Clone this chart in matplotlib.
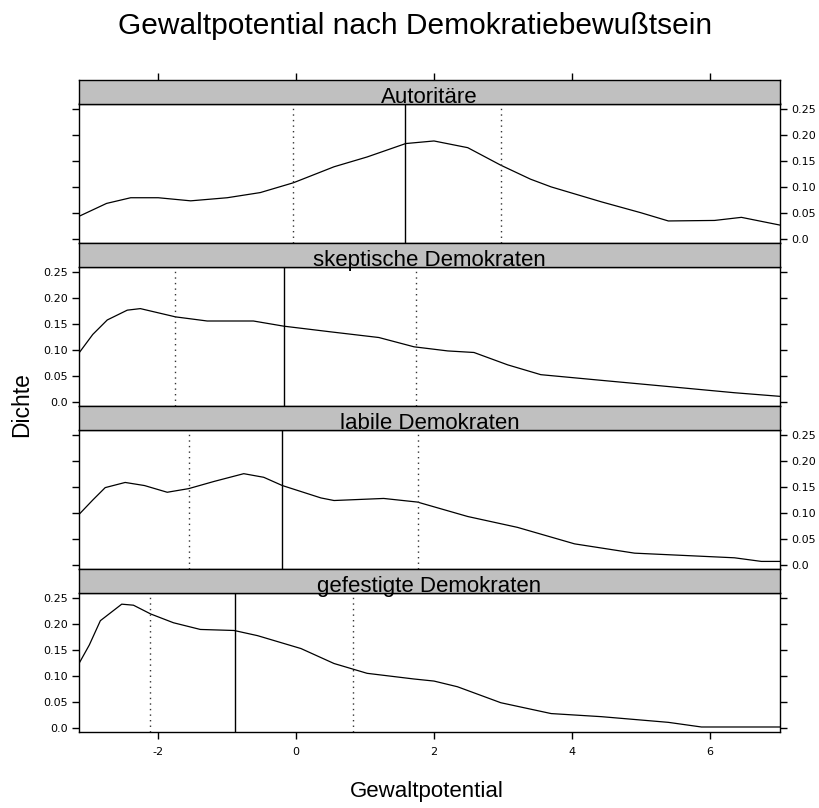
import matplotlib.pyplot as plt
import numpy as np

plt.rcParams['font.family'] = ['Liberation Sans', 'DejaVu Sans']

titel = 'Gewaltpotential nach Demokratiebewußtsein'
gruppen = ['Autoritäre', 'skeptische Demokraten', 'labile Demokraten', 'gefestigte Demokraten']

# Dichtekurven
x_aut = [-3.15, -2.75, -2.4, -2.0, -1.53, -1.0, -0.52, -0.04, 0.55, 1.03, 1.59, 2.0, 2.49, 2.97, 3.4, 3.7, 4.43, 5.0, 5.4, 6.07, 6.46, 7.02]
y_aut = [0.043, 0.068, 0.079, 0.079, 0.073, 0.079, 0.089, 0.108, 0.139, 0.158, 0.184, 0.189, 0.176, 0.142, 0.115, 0.100, 0.071, 0.050, 0.034, 0.035, 0.041, 0.026]

x_ske = [-3.15, -2.95, -2.74, -2.45, -2.26, -1.75, -1.29, -0.62, -0.18, 0.5, 1.2, 1.71, 2.2, 2.58, 3.07, 3.55, 4.43, 5.4, 6.36, 7.02]
y_ske = [0.094, 0.130, 0.158, 0.177, 0.180, 0.164, 0.156, 0.156, 0.146, 0.135, 0.124, 0.106, 0.098, 0.095, 0.071, 0.052, 0.041, 0.029, 0.017, 0.010]

x_lab = [-3.15, -2.95, -2.77, -2.48, -2.2, -1.87, -1.56, -1.19, -0.76, -0.47, -0.2, 0.36, 0.55, 1.27, 1.76, 2.49, 3.21, 4.04, 4.91, 5.88, 6.36, 6.75, 7.02]
y_lab = [0.097, 0.125, 0.149, 0.159, 0.153, 0.140, 0.147, 0.161, 0.176, 0.169, 0.153, 0.129, 0.124, 0.128, 0.121, 0.093, 0.072, 0.040, 0.022, 0.016, 0.013, 0.006, 0.006]

x_gef = [-3.15, -3.0, -2.84, -2.53, -2.36, -2.11, -1.78, -1.39, -0.9, -0.56, 0.07, 0.55, 1.03, 1.71, 2.0, 2.34, 2.97, 3.7, 4.43, 5.4, 5.88, 7.02]
y_gef = [0.124, 0.160, 0.207, 0.239, 0.237, 0.220, 0.203, 0.190, 0.188, 0.178, 0.153, 0.124, 0.105, 0.094, 0.090, 0.079, 0.048, 0.027, 0.021, 0.010, 0.001, 0.001]

# Mittelwert (durchgezogen) und Mittelwert +/- SD (gepunktet)
mittel = [1.58, -0.18, -0.20, -0.89]
unten = [-0.04, -1.75, -1.56, -2.12]
oben = [2.97, 1.74, 1.77, 0.82]

kurven = [(x_aut, y_aut), (x_ske, y_ske), (x_lab, y_lab), (x_gef, y_gef)]
y_ticks = [0.0, 0.05, 0.10, 0.15, 0.20, 0.25]
y_ticklabels = ['0.0', '0.05', '0.10', '0.15', '0.20', '0.25']
x_ticks = [-2, 0, 2, 4, 6]

W, H = 820, 808
fig = plt.figure(figsize=(W / 100, H / 100), dpi=100)

left, right = 79, 780
top0, step, strip_h = 80, 163, 23.5

for k in range(4):
    top = top0 + step * k
    sb = top + strip_h
    bot = top + step
    ax = fig.add_axes([left / W, 1 - bot / H, (right - left) / W, (bot - sb) / H])
    sx = fig.add_axes([left / W, 1 - sb / H, (right - left) / W, strip_h / H])

    xs, ys = kurven[k]
    ax.plot(xs, ys, color='black', lw=0.9)
    ax.axvline(mittel[k], color='black', lw=1)
    ax.axvline(unten[k], color='#333333', lw=1, ls=(0, (1, 3)))
    ax.axvline(oben[k], color='#333333', lw=1, ls=(0, (1, 3)))
    ax.set_xlim(-3.15, 7.02)
    ax.set_ylim(-0.0087, 0.2616)

    ax.set_yticks(y_ticks)
    ax.set_yticklabels(y_ticklabels, family='DejaVu Sans')
    lab_left = (k % 2 == 1)
    ax.tick_params(axis='y', left=True, right=True, labelleft=lab_left, labelright=not lab_left,
                   direction='out', length=5, width=1, labelsize=8, pad=3)
    ax.set_xticks(x_ticks)
    ax.set_xticklabels([str(t) for t in x_ticks], family='DejaVu Sans')
    ax.tick_params(axis='x', bottom=(k == 3), top=False, labelbottom=(k == 3),
                   direction='out', length=5, width=1, labelsize=8, pad=6)
    for s in ax.spines.values():
        s.set_linewidth(1)

    sx.set_facecolor('#c0c0c0')
    sx.set_xlim(-3.15, 7.02)
    sx.set_yticks([])
    if k == 0:
        sx.set_xticks(x_ticks)
        sx.tick_params(axis='x', bottom=False, labelbottom=False, top=True, labeltop=False,
                       direction='out', length=5, width=1)
    else:
        sx.set_xticks([])
    for s in sx.spines.values():
        s.set_linewidth(1)
    sx.text(0.5, 0.02, gruppen[k], transform=sx.transAxes, ha='center', va='baseline',
            fontsize=16)

fig.text(415 / W, 1 - 26 / H, titel, ha='center', va='center', fontsize=21.5)
fig.text(427 / W, 1 - 792 / H, 'Gewaltpotential', ha='center', va='center', fontsize=16)
fig.text(22 / W, 1 - 405 / H, 'Dichte', ha='center', va='center', rotation=90, fontsize=16.5)

fig.savefig('out.png', dpi=100)
